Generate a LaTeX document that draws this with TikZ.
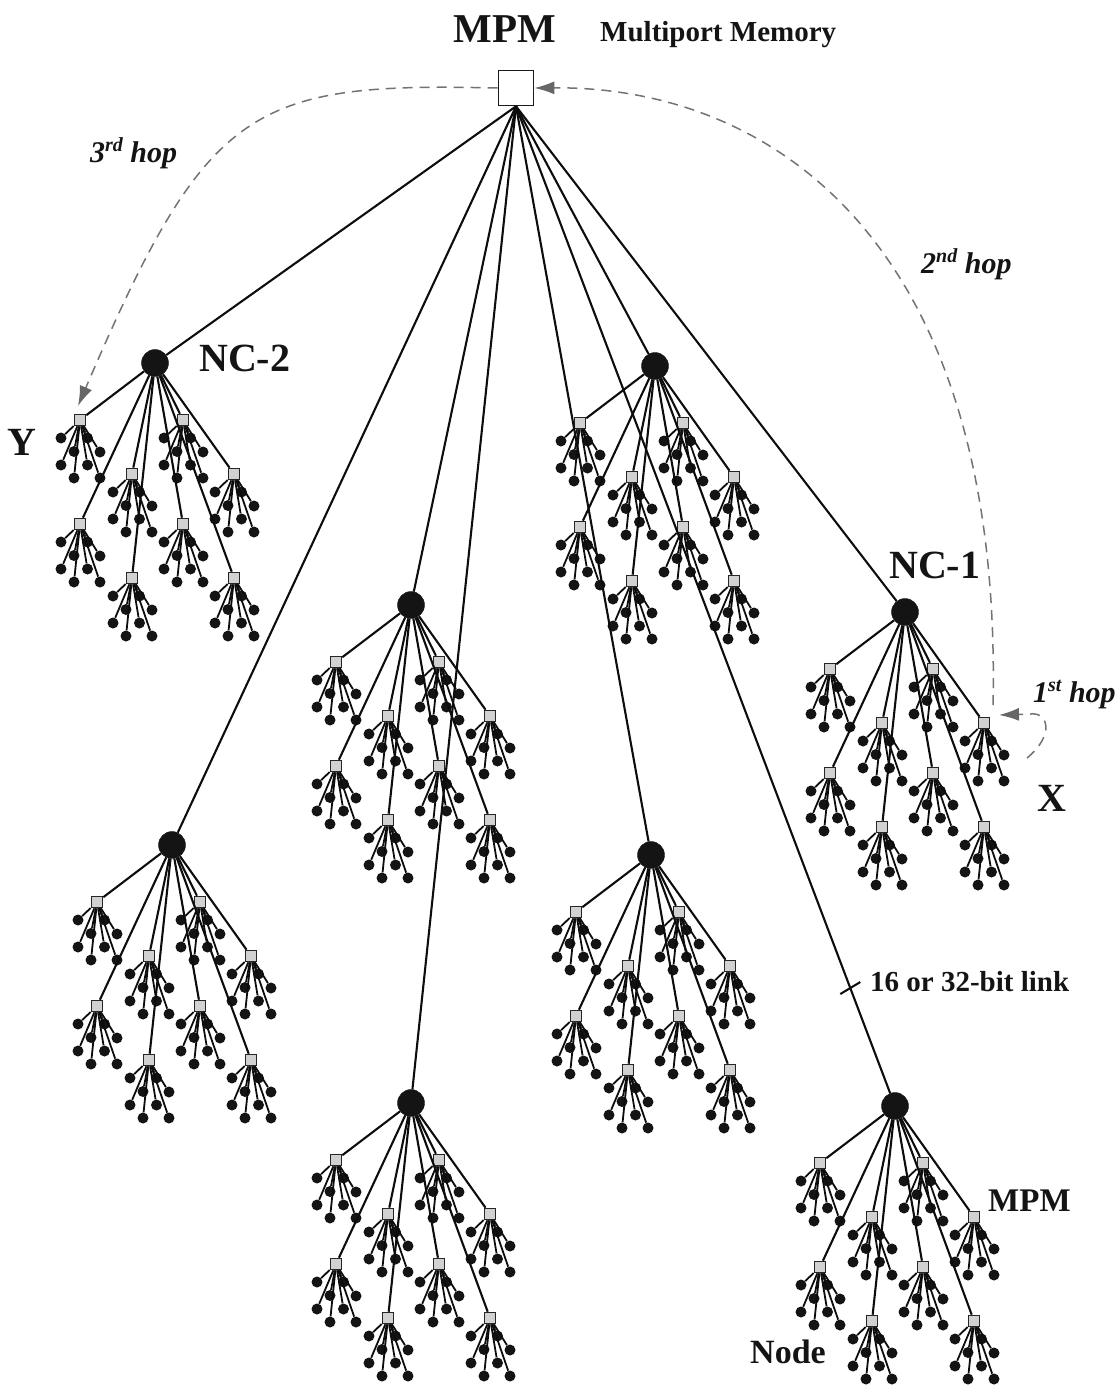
\documentclass[tikz,border=0pt]{standalone}
\usepackage{fontspec}
\setmainfont{Liberation Serif}
\usetikzlibrary{arrows.meta,calc}
\newcommand{\fs}[1]{\fontsize{#1}{#1}\selectfont}
\newcommand{\hopsup}[1]{\raisebox{11pt}{\fs{20}#1}}
\begin{document}
\begin{tikzpicture}[x=1pt,y=-1pt,
  link/.style={line width=2.1pt, black!95},
  hub/.style={circle, fill=black!92, draw=black!92, minimum size=27pt, inner sep=0pt},
  port/.style={rectangle, fill=black!18, draw=black!85, line width=1.1pt, minimum size=11.5pt, inner sep=0pt},
  leaf/.style={circle, fill=black!92, minimum size=11pt, inner sep=0pt},
  root/.style={rectangle, fill=white, draw=black!90, line width=1.6pt, minimum size=35pt, inner sep=0pt},
  hop/.style={draw=black!55, dash pattern=on 10pt off 7pt, line width=1.5pt},
  tip/.style={-{Latex[length=20pt,width=13pt,color=black!60,fill=black!60]}},
  lbl/.style={text=black!92, inner sep=0pt, anchor=base},
  hoplbl/.style={text=black!92, inner sep=0pt, anchor=base west, font=\fs{30}\bfseries\itshape}
]
\useasboundingbox (0,0) rectangle (1117,1385);

% central multiport memory
\node[root] (root) at (516,88) {};

% eight clusters: network controller, eight memories, eight processing nodes each
\foreach \c/\cx/\cy in {1/155/363, 2/655/366, 3/411/605, 4/905/612,
                        5/172/845, 6/651/855, 7/411/1103, 8/895/1106} {
  \node[hub] (nc\c) at (\cx,\cy) {};
  \draw[link] (root.south) -- (nc\c);
  \foreach \mx/\my [count=\i] in {-75/57, 28/57, -23/111, 79/111,
                                  -75/161, 28/161, -23/215, 79/215} {
    \node[port] (m\c-\i) at ({\cx+\mx},{\cy+\my}) {};
    \draw[link] (nc\c) -- (m\c-\i);
    \foreach \dx/\dy [count=\j] in {-19/18, 7.5/18, -6/31.5, 20/32,
                                    -19/45, 7.5/45, -6/58, 20/58} {
      \node[leaf] (d\c-\i-\j) at ({\cx+\mx+\dx},{\cy+\my+\dy}) {};
      \draw[link, line width=1.8pt] (m\c-\i) -- (d\c-\i-\j);
    }
  }
}

% link width mark
\coordinate (tk) at ($(root.south)!0.882!(nc8.center)$);
\draw[link] ($(tk)+(-10,6)$) -- ($(tk)+(10,-6)$);

% message hops X -> MPM -> Y
\coordinate (h1s) at (1027,758);
\coordinate (h1e) at (999,715);
\coordinate (h2s) at (993,705);
\coordinate (h3e) at (78,406);
\draw[hop, tip] (h1s) .. controls (1055,735) and (1048,712) .. (1031,714) -- (h1e);
\draw[hop, tip] (h2s) .. controls (1003,240) and (770,86) .. (root.east);
\draw[hop, tip] (root.west) .. controls (250,82) and (207,105) .. (h3e);

% labels
\node[lbl, font=\fs{41}\bfseries] (tmpm) at (505,42) {MPM};
\node[lbl, font=\fs{29}\bfseries, anchor=base west] (tmem) at (600,41) {Multiport Memory};
\node[lbl, font=\fs{40}\bfseries, anchor=base west] (tnc2) at (199,371) {NC-2};
\node[lbl, font=\fs{40}\bfseries, anchor=base west] (tnc1) at (889,578) {NC-1};
\node[lbl, font=\fs{40}\bfseries] (ty) at (22,455) {Y};
\node[lbl, font=\fs{40}\bfseries] (tx) at (1052,811) {X};
\node[lbl, font=\fs{29}\bfseries, anchor=base west] (tlink) at (870,991) {16 or 32-bit link};
\node[lbl, font=\fs{33}\bfseries, anchor=base west] (tmpm2) at (988,1211) {MPM};
\node[lbl, font=\fs{34}\bfseries, anchor=base west] (tnode) at (750,1363) {Node};
\node[hoplbl] (t3) at (90,162) {3\hopsup{rd} hop};
\node[hoplbl] (t2) at (921,273) {2\hopsup{nd} hop};
\node[hoplbl] (t1) at (1033,702) {1\hopsup{st} hop};
\end{tikzpicture}
\end{document}
